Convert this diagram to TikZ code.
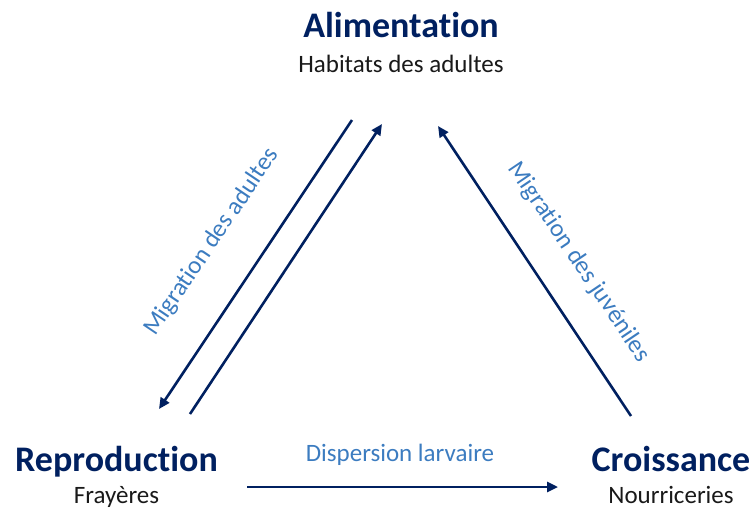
\documentclass[tikz,border=0pt]{standalone}
\usepackage{fontspec}
\setmainfont{Carlito}[Ligatures=NoCommon]
\usepackage{tikz}
\usetikzlibrary{arrows.meta,positioning}
\definecolor{navy}{HTML}{002060}
\definecolor{flowblue}{HTML}{3C7CC0}
\tikzset{
  stagetitle/.style={font=\fontsize{36}{40}\selectfont\bfseries,text=navy,inner sep=0pt,anchor=base},
  stagesub/.style={font=\fontsize{25}{30}\selectfont,text=black!90,inner sep=0pt,anchor=base},
  flowlabel/.style={font=\fontsize{25}{30}\selectfont,text=flowblue,inner sep=0pt},
  flowarrow/.style={-{Triangle[length=11pt,width=10pt]},line width=2.6pt,draw=navy},
}
\begin{document}
\begin{tikzpicture}[x=1pt,y=-1pt]
\useasboundingbox (0,0) rectangle (753,509);
% stages
\node[stagetitle] (alim) at (401,37) {Alimentation};
\node[stagesub,below=35pt of alim.base,anchor=base] (alimsub) {Habitats des adultes};
\node[stagetitle] (repro) at (116.5,471) {Reproduction};
\node[stagesub,below=32pt of repro.base,anchor=base] (reprosub) {Frayères};
\node[stagetitle] (crois) at (671,471) {Croissance};
\node[stagesub,below=32pt of crois.base,anchor=base] (croissub) {Nourriceries};
% arrow ends
\coordinate (adTopA) at (352,120);
\coordinate (adBotA) at (159,409);
\coordinate (adBotB) at (190,414);
\coordinate (adTopB) at (382,124);
\coordinate (juvBot) at (631,416);
\coordinate (juvTop) at (438,126);
\coordinate (larStart) at (247,487);
\coordinate (larEnd) at (558,487);
% migrations
\draw[flowarrow] (adTopA) -- (adBotA);
\draw[flowarrow] (adBotB) -- (adTopB);
\draw[flowarrow] (juvBot) -- (juvTop);
\draw[flowarrow] (larStart) -- (larEnd);
\node[flowlabel,rotate=56] (adlab) at (212,242) {Migration des adultes};
\node[flowlabel,rotate=-56] (juvlab) at (579,262) {Migration des juvéniles};
\node[flowlabel,anchor=base] (larlab) at (400,461.7) {Dispersion larvaire};
\end{tikzpicture}
\end{document}
